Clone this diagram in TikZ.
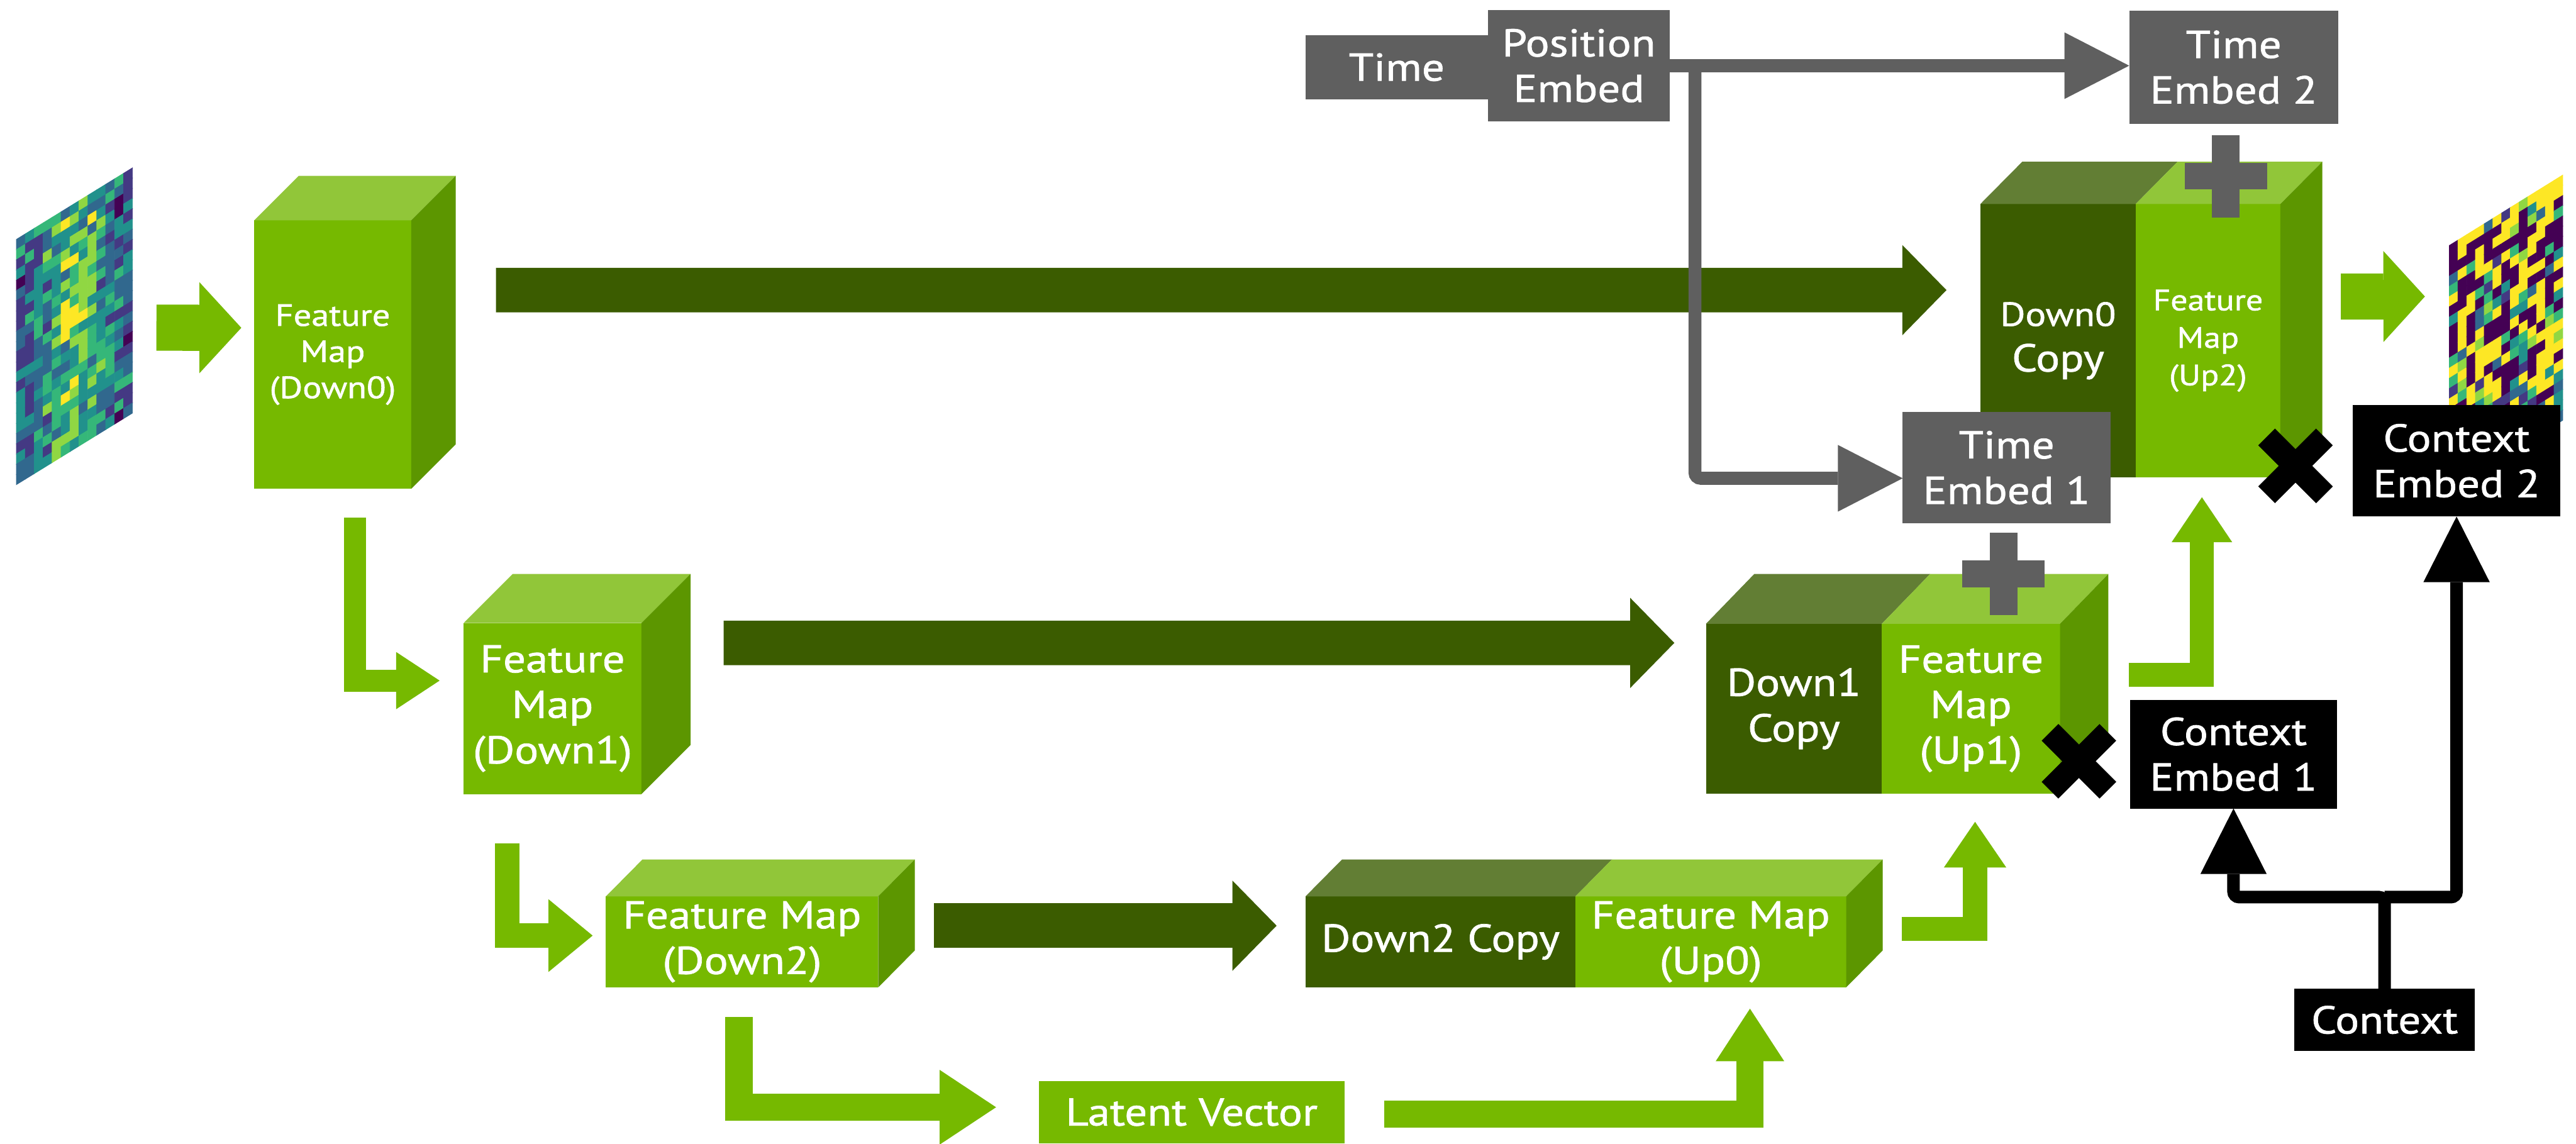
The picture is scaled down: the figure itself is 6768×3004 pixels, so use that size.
\documentclass[tikz,border=0pt]{standalone}
\usepackage{fontspec}
\newfontfamily\lblfont[FakeStretch=1.15,FakeBold=1.2]{PT Sans}
\usetikzlibrary{arrows.meta,calc}

\definecolor{nvg}{HTML}{76B900}
\definecolor{nvgtop}{HTML}{91C639}
\definecolor{nvgside}{HTML}{5C9600}
\definecolor{cpg}{HTML}{3B5C00}
\definecolor{cpgtop}{HTML}{627E34}
\definecolor{embg}{HTML}{5F5F5F}
% viridis steps for the sample grids
\definecolor{vir0}{HTML}{440154}
\definecolor{vir1}{HTML}{443983}
\definecolor{vir2}{HTML}{31688E}
\definecolor{vir3}{HTML}{21918C}
\definecolor{vir4}{HTML}{35B779}
\definecolor{vir5}{HTML}{90D743}
\definecolor{vir6}{HTML}{FDE725}

\newcommand{\lbl}{\lblfont\fontsize{29}{34}\selectfont}
\newcommand{\lblsm}{\lblfont\fontsize{23}{27}\selectfont}
\newcommand{\lblmd}{\lblfont\fontsize{22}{28}\selectfont}

\tikzset{
  fmap/.style={fill=nvg,text=white,align=center,inner sep=0pt,outer sep=0pt,anchor=north west,font=\lbl},
  cmap/.style={fmap,fill=cpg},
  emb/.style={fmap,fill=embg},
  ctxbox/.style={fmap,fill=black},
  skiparrow/.style={draw=cpg,line width=1.17cm,-{Triangle[length=1.16cm,width=2.37cm,line width=0pt]}},
  stepflow/.style args={#1/#2/#3}{draw=nvg,line width=#1,-{Triangle[length=#3,width=#2,line width=0pt]}},
  tline/.style={draw=embg,line width=.34cm,rounded corners=.15cm,-{Triangle[length=1.7cm,width=1.75cm,line width=0pt]}},
  cline/.style={draw=black,line width=.33cm,rounded corners=.15cm,-{Triangle[length=1.72cm,width=1.74cm,line width=0pt]}}
}

% top and side of a block, hung on its front face node
\newcommand{\topface}[3]{\fill[#3] (#1.north west) -- ++(#2) -- ($(#1.north east)+(#2)$) -- (#1.north east) -- cycle;}
\newcommand{\sideface}[3]{\fill[#3] (#1.north east) -- ++(#2) -- ($(#1.south east)+(#2)$) -- (#1.south east) -- cycle;}
% + and x operators
\newcommand{\plusop}[1]{\fill[embg] ($(#1)+(-108,-35)$) rectangle ($(#1)+(108,35)$);
  \fill[embg] ($(#1)+(-36,-108)$) rectangle ($(#1)+(36,108)$);}
\newcommand{\timesop}[1]{\draw[line width=.62cm] ($(#1)+(-76,-76)$) -- ($(#1)+(76,76)$);
  \draw[line width=.62cm] ($(#1)+(-76,76)$) -- ($(#1)+(76,-76)$);}

\begin{document}
\begin{tikzpicture}[x=0.01cm,y=-0.01cm,line join=miter]
\fill[white] (0,0) rectangle (6768,3004);
\useasboundingbox (0,0) rectangle (6768,3004);

% --- input and output samples (skewed grids)
\pgfmathsetseed{11}
\coordinate (inimg) at (196,861);
\begin{scope}[shift={(43,629)},x={(0.2346cm,0.1446cm)},y={(0cm,-0.2683cm)}]
\foreach \i in {0,...,12}{\foreach \j in {0,...,23}{
  \pgfmathsetmacro\wgt{1-abs(\i-6)/7}
  \pgfmathtruncatemacro\cidx{min(6,7*(0.55*rnd+0.45*\wgt))}
  \path[fill=vir\cidx,draw=vir\cidx,line width=.4pt] (\i,\j) -- ++(1,0) -- ++(0,1) -- ++(-1,0) -- cycle;}}
\end{scope}
\coordinate (outimg) at (6584,874);
\begin{scope}[shift={(6435,645)},x={(0.2292cm,0.1423cm)},y={(0cm,-0.2683cm)}]
\foreach \i in {0,...,12}{\foreach \j in {0,...,23}{
  \pgfmathsetmacro\r{rnd}
  \pgfmathtruncatemacro\cidx{ifthenelse(\r<0.3,0,ifthenelse(\r>0.62,6,1+5*(\r-0.3)/0.32))}
  \path[fill=vir\cidx,draw=vir\cidx,line width=.4pt] (\i,\j) -- ++(1,0) -- ++(0,1) -- ++(-1,0) -- cycle;}}
\end{scope}

% --- encoder blocks
\node[fmap,minimum width=4.12cm,minimum height=7.05cm,font=\lblsm] (down0) at (668,579) {Feature\\Map\\(Down0)};
\topface{down0}{117,-117}{nvgtop} \sideface{down0}{117,-117}{nvgside}
\node[fmap,minimum width=4.67cm,minimum height=4.49cm] (down1) at (1218,1637) {Feature\\Map\\(Down1)};
\topface{down1}{129,-129}{nvgtop} \sideface{down1}{129,-129}{nvgside}
\node[fmap,minimum width=7.15cm,minimum height=2.39cm] (down2) at (1592,2355) {Feature Map\\(Down2)};
\topface{down2}{96,-97}{nvgtop} \sideface{down2}{96,-97}{nvgside}
\node[fmap,minimum width=8.03cm,minimum height=1.64cm] (latent) at (2729,2840) {Latent Vector};

% --- decoder blocks: skip copy + upsampled map
\node[cmap,minimum width=7.09cm,minimum height=2.39cm] (dc2) at (3430,2355) {Down2 Copy};
\node[fmap,minimum width=7.11cm,minimum height=2.39cm] (up0) at (4139,2355) {Feature Map\\(Up0)};
\topface{dc2}{96,-97}{cpgtop} \topface{up0}{96,-97}{nvgtop} \sideface{up0}{96,-97}{nvgside}
\node[cmap,minimum width=4.62cm,minimum height=4.46cm] (dc1) at (4482,1639) {Down1\\Copy};
\node[fmap,minimum width=4.68cm,minimum height=4.46cm] (up1) at (4944,1639) {Feature\\Map\\(Up1)};
\topface{dc1}{127,-131}{cpgtop} \topface{up1}{127,-131}{nvgtop} \sideface{up1}{127,-131}{nvgside}
\node[cmap,minimum width=4.08cm,minimum height=7.18cm] (dc0) at (5203,536) {{\lblfont\fontsize{25}{30}\selectfont Down0}\\Copy};
\node[fmap,minimum width=3.80cm,minimum height=7.18cm,font=\lblmd] (up2) at (5611,536) {Feature\\Map\\(Up2)};
\topface{dc0}{110,-111}{cpgtop} \topface{up2}{110,-111}{nvgtop} \sideface{up2}{110,-111}{nvgside}

% --- skip connections
\draw[skiparrow] ($(down0.east)+(223,-169.5)$) -- ($(dc0.west)+(-89,-133)$);
\draw[skiparrow] ($(down1.east)+(216,-172.5)$) -- ($(dc1.west)+(-83,-173)$);
\draw[skiparrow] ($(down2.east)+(147,-42.5)$) -- ($(dc2.west)+(-76,-42.5)$);

% --- main path
\draw[stepflow={1.21cm/2.39cm/1.1cm}] ($(inimg)+(215,0)$) -- ($(down0.west)+(-34,-70.5)$);
\draw[stepflow={.58cm/1.5cm/1.14cm}] ($(down0.south)+(58,76)$) |- ($(down1.west)+(-63,-73.5)$);
\draw[stepflow={.64cm/1.91cm/1.16cm}] ($(down1.south)+(-119.5,129)$) |- ($(down2.west)+(-35,-16.5)$);
\draw[stepflow={.72cm/1.96cm/1.48cm}] ($(down2.south)+(-8.5,78)$) |- ($(latent.west)+(-112,-13)$);
\draw[stepflow={.7cm/1.8cm/1.38cm}] ($(latent.east)+(104,5)$) -| ($(up0.south)+(103,56)$);
\draw[stepflow={.63cm/1.64cm/1.2cm}] ($(up0.east)+(146,-34.5)$) -| ($(up1.south)+(11,74)$);
\draw[stepflow={.62cm/1.59cm/1.18cm}] ($(up1.east)+(181,-89)$) -| ($(up2.south)+(-16,52)$);
\draw[stepflow={1.21cm/2.39cm/1.09cm}] ($(up2.east)+(159,-116)$) -- ($(outimg)+(-213,-95)$);

% --- time embedding
\node[emb,minimum width=4.79cm,minimum height=1.69cm] (time) at (3430,92) {Time};
\node[emb,minimum width=4.78cm,minimum height=2.91cm] (pos) at (3909,27) {Position\\Embed};
\node[emb,minimum width=5.49cm,minimum height=2.97cm] (te2) at (5594,28) {Time\\Embed 2};
\node[emb,minimum width=5.46cm,minimum height=2.93cm] (te1) at (4999,1082) {Time\\Embed 1};
\draw[tline] (pos.east) -- (pos.east -| te2.west);
\draw[tline] ($(pos.east)+(66,0)$) |- ($(te1.west)+(0,28)$);
\coordinate (add2) at (5848,463);
\coordinate (add1) at (5264,1508);
\plusop{add2} \plusop{add1}

% --- context embedding
\coordinate (mul2) at (6031,1224);
\coordinate (mul1) at (5462,2000);
\timesop{mul2} \timesop{mul1}
\node[ctxbox,minimum width=5.44cm,minimum height=2.93cm] (ce2) at (6182,1064) {Context\\Embed 2};
\node[ctxbox,minimum width=5.44cm,minimum height=2.85cm] (ce1) at (5596,1839) {Context\\Embed 1};
\node[ctxbox,minimum width=4.74cm,minimum height=1.63cm] (ctx) at (6028,2598) {Context};
\coordinate (cj) at ($(ctx.north)+(0,-241)$);
\draw[cline] (ctx.north) -- (cj) -| (ce1.south);
\draw[cline] (cj) -| (ce2.south);
\end{tikzpicture}
\end{document}
